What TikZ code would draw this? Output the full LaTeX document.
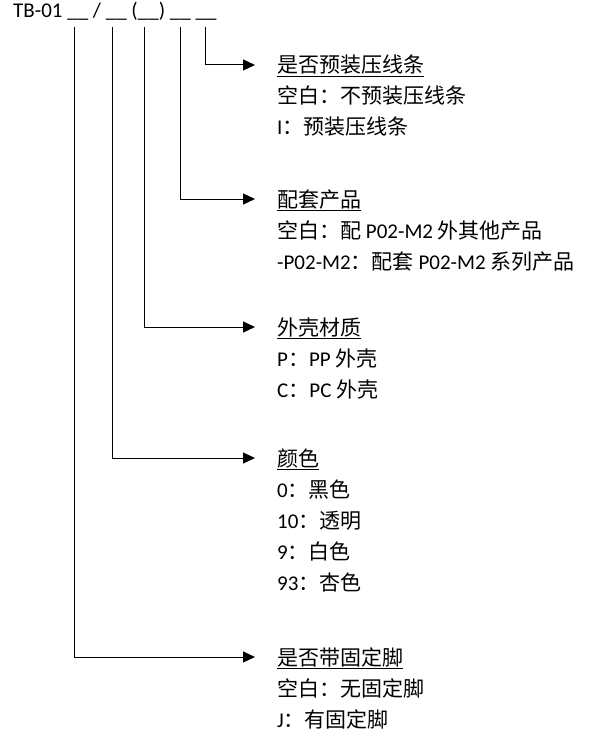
\documentclass[tikz,border=0pt]{standalone}
\usepackage{fontspec}
\setmainfont{Carlito}
\newfontfamily\cjk{Noto Sans CJK SC}
\newcommand{\zh}[1]{{\cjk #1}}
\usetikzlibrary{arrows.meta,positioning}
\tikzset{
  lead/.style={line width=1pt, draw=black},
  pointer/.style={lead, -{Triangle[length=12pt,width=11pt]}, shorten >=22pt},
  txt/.style={inner sep=0pt, font=\fontsize{21}{25}\selectfont},
  head/.style={txt, anchor=west, text height=16pt, text depth=0pt},
  entry/.style={txt, anchor=base west}
}

\begin{document}
\begin{tikzpicture}[x=1pt, y=-1pt]
  \useasboundingbox (0,0) rectangle (595,741);

  % code line
  \node[entry] (title) at (13,17.5) {TB-01 \_\_ / \_\_ (\_\_) \_\_ \_\_};
  \coordinate (b1) at (74,27);
  \coordinate (b2) at (112.5,27);
  \coordinate (b3) at (144.5,27);
  \coordinate (b4) at (180,27);
  \coordinate (b5) at (205,27);

  % headings
  \node[head] (h1) at (277,65) {\zh{\underline{是否预装压线条}}};
  \node[entry] (h1a) at ([yshift=-31pt]h1.base west) {\zh{空白：不预装压线条}};
  \node[entry] (h1b) at ([yshift=-31pt]h1a.base west) {I\zh{：预装压线条}};

  \node[head] (h2) at (277,199) {\zh{\underline{配套产品}}};
  \node[entry] (h2a) at ([yshift=-31pt]h2.base west) {\zh{空白：配} P02-M2 \zh{外其他产品}};
  \node[entry] (h2b) at ([yshift=-31pt]h2a.base west) {-P02-M2\zh{：配套} P02-M2 \zh{系列产品}};

  \node[head] (h3) at (277,327) {\zh{\underline{外壳材质}}};
  \node[entry] (h3a) at ([yshift=-31pt]h3.base west) {P\zh{：}PP \zh{外壳}};
  \node[entry] (h3b) at ([yshift=-31pt]h3a.base west) {C\zh{：}PC \zh{外壳}};

  \node[head] (h4) at (277,458) {\zh{\underline{颜色}}};
  \node[entry] (h4a) at ([yshift=-31pt]h4.base west) {0\zh{：黑色}};
  \node[entry] (h4b) at ([yshift=-31pt]h4a.base west) {10\zh{：透明}};
  \node[entry] (h4c) at ([yshift=-31pt]h4b.base west) {9\zh{：白色}};
  \node[entry] (h4d) at ([yshift=-31pt]h4c.base west) {93\zh{：杏色}};

  \node[head] (h5) at (277,657) {\zh{\underline{是否带固定脚}}};
  \node[entry] (h5a) at ([yshift=-31pt]h5.base west) {\zh{空白：无固定脚}};
  \node[entry] (h5b) at ([yshift=-31pt]h5a.base west) {J\zh{：有固定脚}};

  \draw[pointer] (b5) |- (h1.west);
  \draw[pointer] (b4) |- (h2.west);
  \draw[pointer] (b3) |- (h3.west);
  \draw[pointer] (b2) |- (h4.west);
  \draw[pointer] (b1) |- (h5.west);
\end{tikzpicture}
\end{document}
